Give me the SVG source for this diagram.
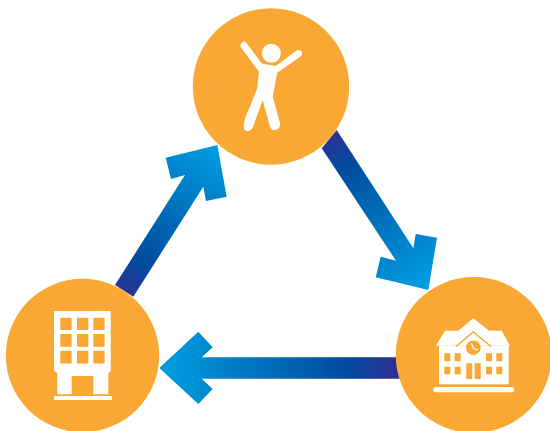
<svg xmlns="http://www.w3.org/2000/svg" width="550" height="431" viewBox="0 0 550 431">
<style>.c{fill:#f9a833}.w{fill:#fff}.o{fill:#f9a833}</style>
<defs>
<linearGradient id="gu" gradientUnits="userSpaceOnUse" x1="121" y1="293" x2="212" y2="150"><stop offset="0" stop-color="#2e3192"/><stop offset=".22" stop-color="#004b9e"/><stop offset="1" stop-color="#009ade"/></linearGradient>
<linearGradient id="gd" gradientUnits="userSpaceOnUse" x1="327" y1="137" x2="420" y2="284"><stop offset="0" stop-color="#2e3192"/><stop offset=".2" stop-color="#004b9e"/><stop offset="1" stop-color="#009ade"/></linearGradient>
<linearGradient id="gl" gradientUnits="userSpaceOnUse" x1="395" y1="368" x2="170" y2="368"><stop offset="0" stop-color="#2e3192"/><stop offset=".22" stop-color="#004b9e"/><stop offset="1" stop-color="#009ade"/></linearGradient>
</defs>
<g id="connectors">
<path fill="url(#gu)" d="M115 285L185 175L171 179L165.700 157.700L217.300 145L226.700 196.700L206 201L203.300 186.700L133.300 296.700Z"/>
<path fill="url(#gd)" d="M336.700 130L413.300 248.300L415.700 234L437 237.700L428.300 290L375.700 277.300L380.700 256.700L396 260.700L321.700 148.300Z"/>
<path fill="url(#gl)" d="M400 357.300H201.700L212.700 347.300L198.300 331.700L159.300 368L198.300 404L212.700 389L201.700 378.700H400Z"/>
</g>
<g id="node-person">
<circle class="c" cx="271" cy="86.500" r="78.200"/>
<circle class="w" cx="271.300" cy="53.300" r="9.500"/>
<path class="w" d="M240.900 47.200C239.900 45.500 240.500 43.400 242.200 42.300C243.900 41.300 245.400 41.300 246.500 43L261.700 63.300C265 64.600 272 65 276 65.700L296.800 50.600C298.500 49.600 300.700 50.200 301.700 51.800C302.600 53.500 302.100 55.500 300.500 56.500L277.300 72.700L272.700 96.700L280 123C280.700 126 278.800 129.500 275.800 130.100C272.800 130.700 270.700 129.300 270 126.500L262.700 100L253.500 125.500C252.800 129 250.800 131 247.800 131C245 131 243.500 129 243.900 125.500C244.200 121 245.500 115 250 106.700L257.200 88.300L259 71.700Z"/>
</g>
<g id="node-building">
<circle class="c" cx="82.500" cy="355.500" r="76.700"/>
<path class="w" d="M54 311H110.700V371L108.300 373V394.300H93.300V376H71.700V394.300H57.300V373L54 371Z"/>
<rect class="w" x="54" y="396" width="58" height="4"/>
<path class="o" d="M60.300 317.700h11.300v12.300h-11.300zM77 317.700h11.300v12.300h-11.300zM93.300 317.700h11.300v12.300h-11.300zM60.300 334h11.300v12.700h-11.300zM77 334h11.300v12.700h-11.300zM93.300 334h11.300v12.700h-11.300zM60.300 350.700h11.300v12.700h-11.300zM77 350.700h11.300v12.700h-11.300zM93.300 350.700h11.300v12.700h-11.300z"/>
</g>
<g id="node-school">
<circle class="c" cx="473.700" cy="355" r="78"/>
<rect class="w" x="433.300" y="387" width="80.700" height="5.300" rx="2.600"/>
<rect class="w" x="439" y="346" width="69.700" height="38.300"/>
<path class="w" d="M436 345.700L445 330.700H458.300L473.300 318.300L489 330.700H501.700L510 345.700Z"/>
<path fill="none" stroke="#f9a833" stroke-width="1.500" d="M456 346.500L473.300 332L491 346.500"/>
<circle class="o" cx="473.300" cy="347.700" r="7.300"/>
<path fill="none" stroke="#fff" stroke-width="1.200" stroke-linecap="round" d="M471.500 343.500L473.500 348.500L477.500 350"/>
<path class="o" d="M444.300 353.300h6v8h-6zM454.700 353.300h6v8h-6zM486 353.300h6v8h-6zM496.300 353.300h6v8h-6zM444.300 366.700h6v7.500h-6zM454.700 366.700h6v7.500h-6zM486 366.700h6v7.500h-6zM496.300 366.700h6v7.500h-6zM466.300 363.300h5.900v15.700h-5.900zM474.600 363.300h6.100v15.700h-6.100z"/>
</g>
</svg>
